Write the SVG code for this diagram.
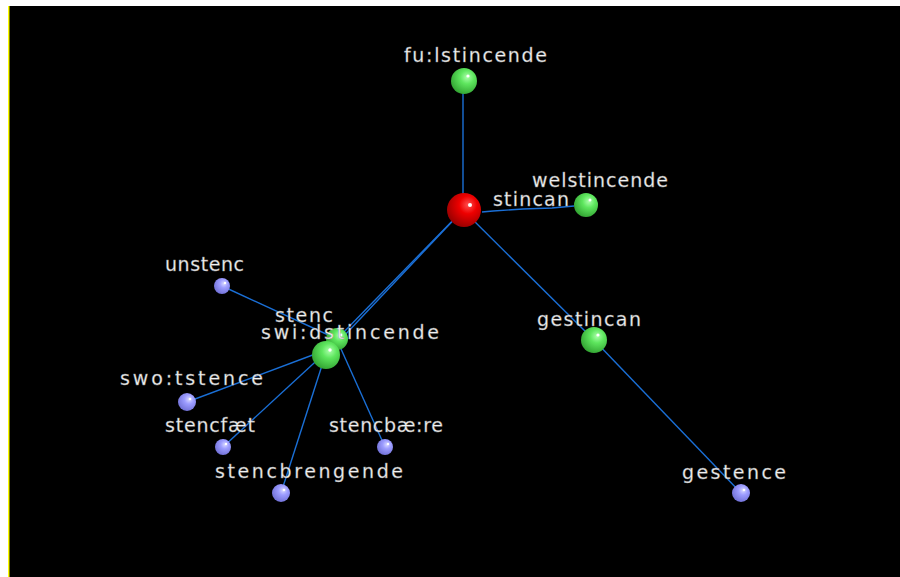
<svg xmlns="http://www.w3.org/2000/svg" width="900" height="577" viewBox="0 0 900 577">
  <style>
    .edge { stroke: #1a6fd6; stroke-width: 1.4; fill: none; }
    .lbl { font-family: "DejaVu Sans", "Liberation Sans", sans-serif; font-size: 19px; fill: #f2f2f2; stroke: #8a8a8a; stroke-width: 0.35; }
    .hl { fill: #ffffff; }
  </style>
  <defs>
    <radialGradient id="gRed" cx="0.62" cy="0.35" r="0.75">
      <stop offset="0" stop-color="#ff5050"/>
      <stop offset="0.35" stop-color="#ee0000"/>
      <stop offset="1" stop-color="#8a0000"/>
    </radialGradient>
    <radialGradient id="gGreen" cx="0.62" cy="0.35" r="0.75">
      <stop offset="0" stop-color="#aaffaa"/>
      <stop offset="0.35" stop-color="#5ee65e"/>
      <stop offset="1" stop-color="#2c9a2c"/>
    </radialGradient>
    <radialGradient id="gBlue" cx="0.62" cy="0.35" r="0.75">
      <stop offset="0" stop-color="#d8d8ff"/>
      <stop offset="0.35" stop-color="#9c9cff"/>
      <stop offset="1" stop-color="#6a6ad0"/>
    </radialGradient>
  </defs>

  <!-- canvas -->
  <rect x="0" y="0" width="900" height="577" fill="#ffffff"/>
  <rect x="8" y="6" width="892" height="571" fill="#000000"/>
  <rect x="8" y="6" width="1.5" height="571" fill="#ffff00"/>

  <!-- connectors -->
  <g id="edges">
    <line class="edge" x1="463" y1="210" x2="463" y2="81"/>
    <polyline class="edge" points="482,212 493,211 523,209 552,208 574,206"/>
    <line class="edge" x1="463" y1="210" x2="594" y2="340"/>
    <line class="edge" x1="594" y1="340" x2="741" y2="493"/>
    <line class="edge" x1="463" y1="210" x2="337" y2="339"/>
    <line class="edge" x1="463" y1="210" x2="326" y2="355"/>
    <line class="edge" x1="222" y1="286" x2="337" y2="339"/>
    <line class="edge" x1="187" y1="402" x2="326" y2="350"/>
    <line class="edge" x1="223" y1="447" x2="326" y2="352"/>
    <line class="edge" x1="281" y1="493" x2="325" y2="356"/>
    <line class="edge" x1="385" y1="447" x2="337" y2="340"/>
  </g>

  <!-- nodes -->
  <g id="n-fulstincende">
    <circle cx="464" cy="81" r="13" fill="url(#gGreen)"/>
    <circle class="hl" cx="468" cy="76" r="1.6"/>
  </g>
  <g id="n-welstincende">
    <circle cx="586" cy="205" r="12" fill="url(#gGreen)"/>
    <circle class="hl" cx="590" cy="200" r="1.5"/>
  </g>
  <g id="n-stincan">
    <circle cx="464" cy="210" r="17" fill="url(#gRed)"/>
    <circle class="hl" cx="470" cy="205" r="2"/>
  </g>
  <g id="n-gestincan">
    <circle cx="594" cy="340" r="13" fill="url(#gGreen)"/>
    <circle class="hl" cx="598" cy="335" r="1.6"/>
  </g>
  <g id="n-gestence">
    <circle cx="741" cy="493" r="9" fill="url(#gBlue)"/>
    <circle class="hl" cx="744" cy="490" r="1.3"/>
  </g>
  <g id="n-unstenc">
    <circle cx="222" cy="286" r="8" fill="url(#gBlue)"/>
    <circle class="hl" cx="225" cy="283" r="1.2"/>
  </g>
  <g id="n-stenc">
    <circle cx="337" cy="339" r="11" fill="url(#gGreen)"/>
    <circle class="hl" cx="341" cy="335" r="1.4"/>
  </g>
  <g id="n-swidstincende">
    <circle cx="326" cy="355" r="14" fill="url(#gGreen)"/>
    <circle class="hl" cx="330" cy="350" r="1.7"/>
  </g>
  <g id="n-swotstence">
    <circle cx="187" cy="402" r="9" fill="url(#gBlue)"/>
    <circle class="hl" cx="190" cy="399" r="1.3"/>
  </g>
  <g id="n-stencfaet">
    <circle cx="223" cy="447" r="8" fill="url(#gBlue)"/>
    <circle class="hl" cx="226" cy="444" r="1.2"/>
  </g>
  <g id="n-stencbrengende">
    <circle cx="281" cy="493" r="9" fill="url(#gBlue)"/>
    <circle class="hl" cx="284" cy="490" r="1.3"/>
  </g>
  <g id="n-stencbaere">
    <circle cx="385" cy="447" r="8" fill="url(#gBlue)"/>
    <circle class="hl" cx="388" cy="444" r="1.2"/>
  </g>

  <!-- labels -->
  <g id="labels">
    <text class="lbl" x="404" y="62" textLength="143" lengthAdjust="spacing">fu:lstincende</text>
    <text class="lbl" x="532" y="187" textLength="136" lengthAdjust="spacing">welstincende</text>
    <text class="lbl" x="493" y="206" textLength="76" lengthAdjust="spacing">stincan</text>
    <text class="lbl" x="537" y="326" textLength="104" lengthAdjust="spacing">gestincan</text>
    <text class="lbl" x="682" y="479" textLength="104" lengthAdjust="spacing">gestence</text>
    <text class="lbl" x="165" y="271" textLength="79" lengthAdjust="spacing">unstenc</text>
    <text class="lbl" x="275" y="322" textLength="58" lengthAdjust="spacing">stenc</text>
    <text class="lbl" x="261" y="339" textLength="178" lengthAdjust="spacing">swi:dstincende</text>
    <text class="lbl" x="120" y="385" textLength="143" lengthAdjust="spacing">swo:tstence</text>
    <text class="lbl" x="165" y="432" textLength="90" lengthAdjust="spacing">stencfæt</text>
    <text class="lbl" x="215" y="478" textLength="188" lengthAdjust="spacing">stencbrengende</text>
    <text class="lbl" x="329" y="432" textLength="114" lengthAdjust="spacing">stencbæ:re</text>
  </g>
</svg>
